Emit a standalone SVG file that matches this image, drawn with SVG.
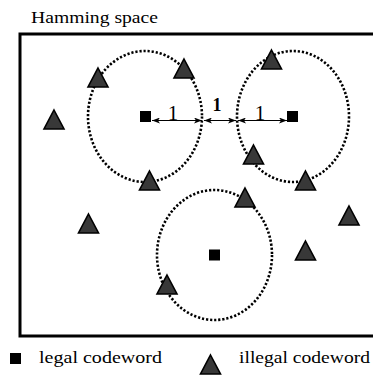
<svg xmlns="http://www.w3.org/2000/svg" width="373" height="376" viewBox="0 0 373 376">
<style>
text{font-family:"Liberation Serif","DejaVu Serif",serif;fill:#000}
.ring{fill:none;stroke:#000;stroke-width:2.6;stroke-dasharray:2.2 1.9}
.tri{fill:#383838;stroke:#000;stroke-width:1.6;stroke-linejoin:miter}
.sq{fill:#000}
.arr{stroke:#000;stroke-width:1;fill:none;marker-start:url(#ah);marker-end:url(#ah)}
</style>
<defs>
<path id="tr" class="tri" d="M0,0 L10,19 L-10,19 Z"/>
<marker id="ah" viewBox="0 0 8 6" refX="8" refY="3" markerWidth="8" markerHeight="6" markerUnits="userSpaceOnUse" orient="auto-start-reverse">
<path d="M0,0 L8,3 L0,6 L2,3 Z" fill="#000"/>
</marker>
</defs>
<text x="31" y="23" font-size="16" textLength="127" lengthAdjust="spacingAndGlyphs">Hamming space</text>
<path d="M376,34 H20 V336 H376" fill="none" stroke="#000" stroke-width="3"/>
<g id="spheres">
<ellipse class="ring" cx="145" cy="116.5" rx="57" ry="65.5"/>
<ellipse class="ring" cx="293" cy="116.5" rx="56" ry="65.5"/>
<ellipse class="ring" cx="214.5" cy="255" rx="57.5" ry="65"/>
</g>
<g id="connectors">
<line class="arr" x1="152" y1="120.5" x2="202" y2="120.5"/>
<line class="arr" x1="204" y1="120.5" x2="236" y2="120.5"/>
<line class="arr" x1="238" y1="120.5" x2="287" y2="120.5"/>
</g>
<g id="labels">
<text x="173" y="119.5" font-size="21" text-anchor="middle">1</text>
<text x="217" y="110.5" font-size="18" font-weight="bold" text-anchor="middle">1</text>
<text x="260" y="119.5" font-size="21" text-anchor="middle">1</text>
</g>
<g id="legal">
<rect class="sq" x="140" y="111" width="11" height="11"/>
<rect class="sq" x="287" y="111" width="11" height="11"/>
<rect class="sq" x="209" y="249.5" width="11" height="11"/>
</g>
<g id="illegal">
<use href="#tr" x="98" y="68"/>
<use href="#tr" x="184" y="59"/>
<use href="#tr" x="271.5" y="50"/>
<use href="#tr" x="54" y="110"/>
<use href="#tr" x="253.5" y="145"/>
<use href="#tr" x="149.5" y="171"/>
<use href="#tr" x="305.5" y="171"/>
<use href="#tr" x="245" y="188"/>
<use href="#tr" x="88.5" y="214"/>
<use href="#tr" x="349" y="206"/>
<use href="#tr" x="305.5" y="241"/>
<use href="#tr" x="167" y="275"/>
</g>
<g id="legend">
<rect class="sq" x="10" y="353" width="11" height="11"/>
<text x="39" y="363" font-size="17" textLength="123" lengthAdjust="spacingAndGlyphs">legal codeword</text>
<use href="#tr" x="210.5" y="355"/>
<text x="239" y="363" font-size="17" textLength="131" lengthAdjust="spacingAndGlyphs">illegal codeword</text>
</g>
</svg>
